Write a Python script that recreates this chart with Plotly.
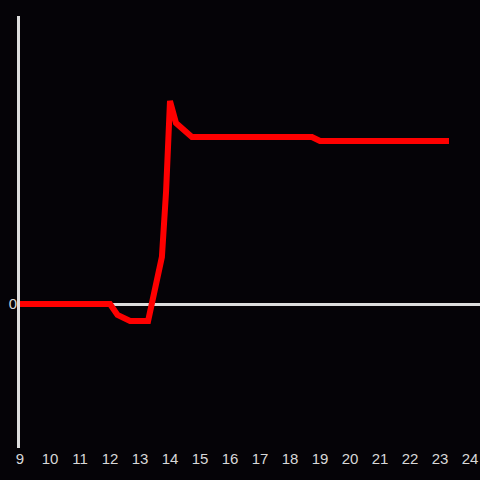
import plotly.graph_objects as go

hours = [9, 12, 12.25, 12.67, 13.27, 13.73, 13.87, 14.0, 14.2, 14.73, 18.73, 19.0, 23.3]
values = [0, 0, -1.1, -1.7, -1.7, 4.7, 11.3, 20.3, 18.1, 16.7, 16.7, 16.3, 16.3]
x_ticks = list(range(9, 25))

fig = go.Figure(go.Scatter(
    x=hours, y=values, mode="lines",
    line=dict(color="#ff0000", width=6),
    hoverinfo="skip",
))

bg = "#050307"
fig.update_layout(
    width=480, height=480,
    paper_bgcolor=bg, plot_bgcolor=bg,
    margin=dict(l=20, r=0, t=16, b=32),
    showlegend=False,
    font=dict(family="Liberation Sans, Arial, sans-serif", size=15, color="#d8d8d8"),
    xaxis=dict(range=[9, 24.333], tickvals=x_ticks, ticktext=[str(t) for t in x_ticks],
               showgrid=False, zeroline=False, showline=False, ticks=""),
    yaxis=dict(range=[-14.4, 28.8], tickvals=[0], ticktext=["0"],
               showgrid=False, zeroline=True, zerolinecolor="#dddddd", zerolinewidth=3,
               showline=True, linecolor="#dddddd", linewidth=3, ticks="",
               ticklabelstandoff=-3),
)
fig.write_html("out.html", config={"displayModeBar": False},
               post_script="document.body.style.margin='0';document.body.style.background='%s';" % bg)
